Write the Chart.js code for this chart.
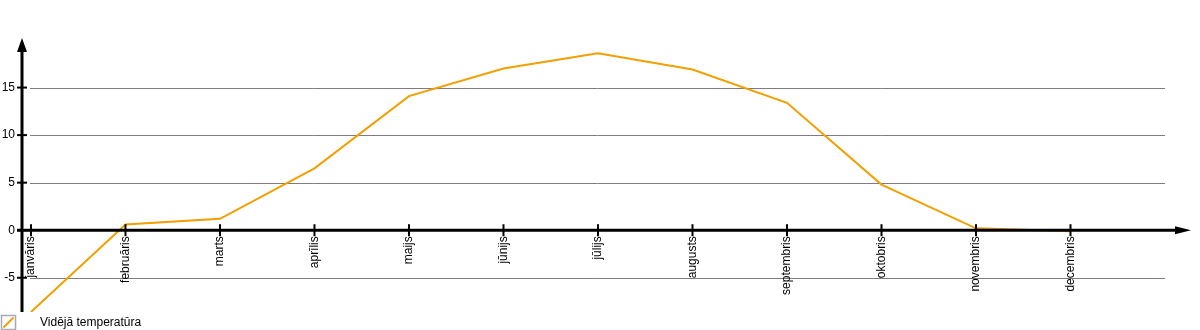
<!DOCTYPE html>
<html>
<head>
<meta charset="utf-8">
<script src="https://cdn.jsdelivr.net/npm/chart.js@4/dist/chart.umd.min.js"></script>
<style>
  html, body { margin: 0; padding: 0; background: #fff; }
  #wrap { width: 1200px; height: 330px; position: relative; }
</style>
</head>
<body>
<div id="wrap"><canvas id="c" width="1200" height="330"></canvas></div>
<script>
const categories = ['janvāris','februāris','marts','aprīlis','maijs','jūnijs','jūlijs','augusts','septembris','oktobris','novembris','decembris'];
const temperatures = [-8.6, 0.6, 1.2, 6.5, 14.1, 17.0, 18.6, 16.9, 13.4, 4.8, 0.2, -0.1];
const yTicks = [-5, 0, 5, 10, 15];
const gridValues = [-5, 5, 10, 15];
const seriesName = 'Vidējā temperatūra';

const FONT = '12px "Liberation Sans", Arial, Helvetica, sans-serif';
const LINE_COLOR = '#f29f00';

const axesPlugin = {
  id: 'customAxes',
  beforeDatasetsDraw(chart) {
    const ctx = chart.ctx, ca = chart.chartArea;
    const ys = chart.scales.y;
    ctx.save();
    ctx.lineWidth = 1;
    ctx.strokeStyle = '#827a7e';
    gridValues.forEach(v => {
      const py = Math.round(ys.getPixelForValue(v)) + 0.5;
      ctx.beginPath();
      ctx.moveTo(ca.left + 8, py);
      ctx.lineTo(ca.right, py);
      ctx.stroke();
    });
    ctx.restore();
  },
  afterDatasetsDraw(chart) {
    const ctx = chart.ctx, ca = chart.chartArea;
    const xs = chart.scales.x, ys = chart.scales.y;
    const x0 = ca.left;
    const y0 = ys.getPixelForValue(0);
    ctx.save();
    ctx.strokeStyle = '#000';
    ctx.fillStyle = '#000';
    // y axis
    ctx.lineWidth = 3;
    ctx.beginPath();
    ctx.moveTo(x0, ca.bottom);
    ctx.lineTo(x0, ca.top + 10);
    ctx.stroke();
    ctx.beginPath();
    ctx.moveTo(x0, ca.top - 2);
    ctx.lineTo(x0 - 5, ca.top + 12);
    ctx.lineTo(x0 + 5, ca.top + 12);
    ctx.closePath();
    ctx.fill();
    // x axis
    ctx.beginPath();
    ctx.moveTo(x0 - 5, y0);
    ctx.lineTo(chart.width - 20, y0);
    ctx.stroke();
    ctx.beginPath();
    ctx.moveTo(chart.width - 9, y0);
    ctx.lineTo(chart.width - 25, y0 - 4);
    ctx.lineTo(chart.width - 25, y0 + 4);
    ctx.closePath();
    ctx.fill();
    // y ticks
    ctx.lineWidth = 2;
    ctx.font = FONT;
    ctx.textAlign = 'right';
    ctx.textBaseline = 'middle';
    yTicks.forEach(v => {
      const py = ys.getPixelForValue(v);
      ctx.beginPath();
      ctx.moveTo(x0 - 5, py);
      ctx.lineTo(x0 + 5, py);
      ctx.stroke();
      ctx.fillText(String(v).replace('-', '-'), x0 - 7, py);
    });
    // x ticks and labels
    categories.forEach((lab, i) => {
      const px = xs.getPixelForValue(i);
      ctx.beginPath();
      ctx.moveTo(px, y0 - 6);
      ctx.lineTo(px, y0 + 6);
      ctx.stroke();
      ctx.save();
      ctx.translate(px, y0 + 6);
      ctx.rotate(-Math.PI / 2);
      ctx.textAlign = 'right';
      ctx.textBaseline = 'middle';
      ctx.fillText(lab, 0, 0);
      ctx.restore();
    });
    // legend
    const lx = 0.5, ly = 315.5, ls = 14;
    ctx.lineWidth = 1.5;
    ctx.strokeStyle = '#a8a8b8';
    ctx.strokeRect(lx + 1, ly, ls, ls);
    ctx.strokeStyle = LINE_COLOR;
    ctx.lineWidth = 2;
    ctx.beginPath();
    ctx.moveTo(lx + 3, ly + ls - 2);
    ctx.lineTo(lx + ls - 1, ly + 2);
    ctx.stroke();
    ctx.fillStyle = '#000';
    ctx.textAlign = 'left';
    ctx.textBaseline = 'middle';
    ctx.fillText(seriesName, 40, ly + 7.5);
    ctx.restore();
  }
};

new Chart(document.getElementById('c'), {
  type: 'line',
  data: {
    datasets: [{
      label: seriesName,
      data: temperatures.map((v, i) => ({ x: i, y: v })),
      borderColor: LINE_COLOR,
      backgroundColor: LINE_COLOR,
      borderWidth: 2,
      pointRadius: 0,
      tension: 0,
      fill: false
    }]
  },
  options: {
    responsive: false,
    animation: false,
    devicePixelRatio: 1,
    layout: { padding: { left: 22, top: 40, right: 35, bottom: 18 } },
    plugins: { legend: { display: false }, tooltip: { enabled: false } },
    scales: {
      x: { type: 'linear', display: false, min: -0.095, max: 12 },
      y: { type: 'linear', display: false, min: -8.6, max: 20 }
    }
  },
  plugins: [axesPlugin]
});
</script>
</body>
</html>
